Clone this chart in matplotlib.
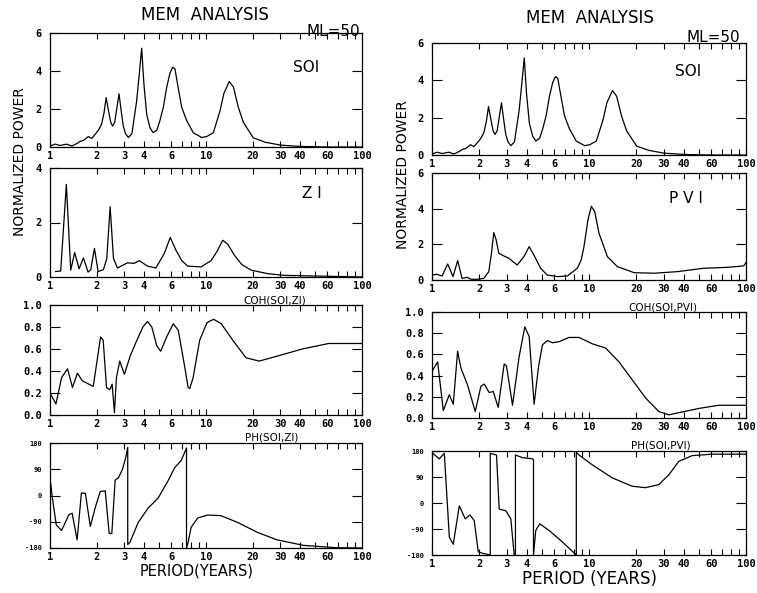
import matplotlib.pyplot as plt
from matplotlib.ticker import FixedLocator, NullFormatter

# x axis: period in years (log)
period_ticks = [1, 2, 3, 4, 6, 10, 20, 30, 40, 60, 100]
period_minor = [5, 7, 8, 9, 50, 70, 80, 90]

# SOI spectrum (same on both columns)
soi_period = [1.0, 1.08, 1.16, 1.28, 1.38, 1.5, 1.56, 1.64, 1.76, 1.85, 1.94, 2.05, 2.14, 2.22,
              2.29, 2.36, 2.45, 2.52, 2.6, 2.7, 2.77, 2.85, 2.95, 3.05, 3.18, 3.35, 3.59, 3.74,
              3.87, 4.0, 4.17, 4.38, 4.59, 4.85, 5.07, 5.33, 5.6, 5.88, 6.12, 6.33, 6.48, 6.98,
              7.51, 8.29, 9.38, 10.1, 11.14, 12.3, 13.0, 14.1, 15.0, 16.1, 17.35, 20.1, 24,
              30, 40, 60, 100]
soi_power = [0.05, 0.15, 0.08, 0.15, 0.05, 0.2, 0.3, 0.35, 0.55, 0.45, 0.65, 0.9, 1.2, 1.8,
             2.6, 2.0, 1.3, 1.1, 1.3, 2.2, 2.8, 2.0, 1.1, 0.7, 0.5, 0.7, 2.4, 3.9,
             5.2, 3.3, 1.7, 1.0, 0.75, 0.9, 1.4, 2.1, 3.15, 3.9, 4.2, 4.1, 3.6, 2.1,
             1.4, 0.75, 0.5, 0.55, 0.75, 1.9, 2.8, 3.45, 3.15, 2.1, 1.3, 0.48, 0.25,
             0.1, 0.03, 0.0, 0.0]

# ZI spectrum
zi_period = [1.087, 1.171, 1.273, 1.358, 1.44, 1.536, 1.637, 1.754, 1.825, 1.927,
             2.034, 2.2, 2.312, 2.429, 2.552, 2.707, 3.139, 3.464, 3.73, 4.22,
             4.77, 5.4, 5.9, 6.42, 7.0, 7.62, 9.29, 10.77, 11.8, 12.8, 13.8, 15.2,
             17.0, 19.5, 25.0, 31.9, 100]
zi_power = [0.2, 0.22, 3.4, 0.25, 0.9, 0.3, 0.7, 0.18, 0.27, 1.05,
            0.2, 0.27, 0.68, 2.58, 0.68, 0.33, 0.52, 0.5, 0.6, 0.4,
            0.33, 0.86, 1.45, 0.98, 0.6, 0.4, 0.37, 0.6, 0.95, 1.35, 1.2, 0.8,
            0.45, 0.25, 0.12, 0.06, 0.0]

# coherence SOI / ZI
coh_zi_period = [1.0, 1.092, 1.186, 1.295, 1.393, 1.499, 1.613, 1.894, 2.110, 2.193,
                 2.303, 2.418, 2.502, 2.589, 2.666, 2.799, 2.997, 3.272, 3.607, 3.938,
                 4.217, 4.493, 4.834, 5.125, 5.596, 6.17, 6.64, 7.32, 7.68, 7.87,
                 8.27, 9.11, 10.15, 11.19, 12.52, 14.85, 18.05, 21.93, 29.4, 41.4,
                 61.1, 100]
coh_zi = [0.2, 0.10, 0.34, 0.42, 0.25, 0.38, 0.31, 0.26, 0.71, 0.68,
          0.25, 0.23, 0.28, 0.02, 0.34, 0.49, 0.37, 0.54, 0.68, 0.80,
          0.85, 0.80, 0.63, 0.58, 0.71, 0.83, 0.77, 0.43, 0.25, 0.24,
          0.34, 0.68, 0.84, 0.87, 0.83, 0.68, 0.52, 0.49, 0.54, 0.60,
          0.65, 0.65]

# phase SOI / ZI (degrees)
ph_zi_period = [1.0, 1.035, 1.097, 1.186, 1.321, 1.387, 1.492, 1.59, 1.686, 1.813,
                1.951, 2.099, 2.259, 2.394, 2.49, 2.615, 2.746, 2.911, 3.056, 3.15,
                3.15, 3.257, 3.679, 4.258, 4.93, 5.706, 6.29, 6.94, 7.5, 7.5,
                7.65, 8.03, 8.85, 10.25, 12.45, 15.9, 21.3, 28.5, 42.2, 68.7, 100]
ph_zi = [61, -7, -101, -120, -66, -61, -152, 9, 7, -106,
         -41, 14, 16, -129, -131, 52, 61, 89, 129, 165,
         -168, -160, -92, -43, -9, 50, 95, 120, 163, -180,
         -165, -109, -77, -67, -69, -92, -126, -152, -171, -179, -180]

# PVI spectrum
pvi_period = [1.0, 1.076, 1.158, 1.259, 1.361, 1.458, 1.554, 1.673, 1.774, 1.937,
              2.137, 2.3, 2.392, 2.475, 2.562, 2.664, 2.868, 3.086, 3.488, 3.847,
              4.16, 4.457, 4.915, 5.42, 6.28, 7.27, 8.42, 8.9, 9.29, 9.85, 10.35,
              10.87, 11.58, 13.09, 15.17, 19.38, 25.99, 36.6, 54.2, 76.4, 96.7, 100]
pvi_power = [0.28, 0.32, 0.22, 0.9, 0.19, 1.09, 0.09, 0.15, 0.04, 0.04,
             0.09, 0.47, 1.5, 2.66, 2.25, 1.5, 1.35, 1.22, 0.84, 1.31,
             1.87, 1.4, 0.66, 0.28, 0.19, 0.22, 0.66, 1.1, 1.87, 3.38, 4.13,
             3.84, 2.62, 1.31, 0.75, 0.41, 0.38, 0.47, 0.66, 0.71, 0.79, 0.98]

# coherence SOI / PVI
coh_pvi_period = [1.01, 1.086, 1.18, 1.289, 1.366, 1.456, 1.529, 1.686, 1.886, 2.048,
                  2.15, 2.314, 2.454, 2.64, 2.883, 2.983, 3.257, 3.59, 3.9, 4.156,
                  4.472, 4.764, 5.05, 5.435, 5.85, 6.45, 7.46, 8.64, 10.5, 12.76,
                  15.51, 18.86, 22.9, 27.9, 32.3, 37.3, 50.0, 67.0, 100]
coh_pvi = [0.45, 0.53, 0.07, 0.22, 0.13, 0.63, 0.47, 0.31, 0.06, 0.30,
           0.32, 0.24, 0.25, 0.10, 0.51, 0.49, 0.12, 0.58, 0.86, 0.77,
           0.13, 0.48, 0.69, 0.73, 0.71, 0.72, 0.76, 0.76, 0.70, 0.66,
           0.53, 0.36, 0.19, 0.06, 0.03, 0.05, 0.09, 0.12, 0.12]

# phase SOI / PVI (degrees)
ph_pvi_period = [1.01, 1.113, 1.198, 1.289, 1.366, 1.492, 1.629, 1.744, 1.858, 1.97,
                 2.099, 2.314, 2.35, 2.35, 2.576, 2.679, 2.953, 3.178, 3.337, 3.4,
                 3.4, 3.77, 4.364, 4.43, 4.43, 4.581, 4.858, 5.57, 6.77, 8.3,
                 8.3, 8.64, 10.5, 14.07, 18.86, 22.9, 27.9, 32.3, 37.3, 45.4,
                 60.8, 100]
ph_pvi = [172, 153, 172, -118, -143, -10, -55, -41, -61, -169,
          -174, -179, -180, 172, 166, -21, -27, -55, -180, -180,
          166, 157, 153, 150, -180, -95, -72, -95, -135, -180,
          175, 166, 132, 87, 58, 53, 64, 98, 144, 164,
          169, 169]

W, H = 757.0, 593.0
fig = plt.figure(figsize=(W / 100, H / 100), dpi=100)
TICKFONT = dict(family='DejaVu Sans Mono', weight='bold')


def panel(box, ylim, yticks, ylabels, ysize=7.5):
    x0, x1, y0, y1 = box
    ax = fig.add_axes([x0 / W, 1 - y1 / H, (x1 - x0) / W, (y1 - y0) / H])
    ax.set_xscale('log')
    ax.set_xlim(1, 100)
    ax.set_ylim(*ylim)
    ax.set_xticks(period_ticks, labels=[str(t) for t in period_ticks])
    ax.xaxis.set_minor_locator(FixedLocator(period_minor))
    ax.xaxis.set_minor_formatter(NullFormatter())
    ax.set_yticks(yticks, labels=ylabels)
    ax.tick_params(axis='x', which='both', direction='in', top=True,
                   length=4, width=0.8, pad=3)
    ax.tick_params(axis='y', direction='in', right=True, length=7, width=0.8, pad=6)
    for lab in ax.get_xticklabels():
        lab.set(fontsize=7.5, **TICKFONT)
    for lab in ax.get_yticklabels():
        lab.set(fontsize=ysize, **TICKFONT)
    for s in ax.spines.values():
        s.set_linewidth(0.9)
    return ax


pow6 = ((0, 6), [0, 2, 4, 6], ['0', '2', '4', '6'])
pow4 = ((0, 4), [0, 2, 4], ['0', '2', '4'])
coh = ((0, 1), [0, 0.2, 0.4, 0.6, 0.8, 1.0], ['0.0', '0.2', '0.4', '0.6', '0.8', '1.0'])
pha = ((-180, 180), [-180, -90, 0, 90, 180], ['-180', '-90', '0', '90', '180'])

# left column
a1 = panel((50, 362, 33, 147), *pow6)
a1.plot(soi_period, soi_power, color='black', lw=0.9)
a1.text(0.82, 0.70, 'SOI', transform=a1.transAxes, ha='center', va='center', fontsize=11)

a2 = panel((50, 362, 168, 277), *pow4)
a2.plot(zi_period, zi_power, color='black', lw=0.9)
a2.text(0.84, 0.77, 'Z I', transform=a2.transAxes, ha='center', va='center', fontsize=11)

a3 = panel((50, 362, 305, 415), *coh)
a3.plot(coh_zi_period, coh_zi, color='black', lw=0.9)
a3.text(0.72, 1.0, 'COH(SOI,ZI)', transform=a3.transAxes, ha='center', va='bottom', fontsize=7.5)

a4 = panel((50, 362, 443, 548), *pha, ysize=5)
a4.plot(ph_zi_period, ph_zi, color='black', lw=0.9)
a4.text(0.71, 1.0, 'PH(SOI,ZI)', transform=a4.transAxes, ha='center', va='bottom', fontsize=7.5)

# right column
b1 = panel((432, 746, 43, 155), *pow6)
b1.plot(soi_period, soi_power, color='black', lw=0.9)
b1.text(0.815, 0.75, 'SOI', transform=b1.transAxes, ha='center', va='center', fontsize=11)

b2 = panel((432, 746, 173, 280), *pow6)
b2.plot(pvi_period, pvi_power, color='black', lw=0.9)
b2.text(0.81, 0.76, 'P V I', transform=b2.transAxes, ha='center', va='center', fontsize=11)

b3 = panel((432, 746, 312, 418), *coh)
b3.plot(coh_pvi_period, coh_pvi, color='black', lw=0.9)
b3.text(0.735, 1.0, 'COH(SOI,PVI)', transform=b3.transAxes, ha='center', va='bottom', fontsize=7.5)

b4 = panel((432, 746, 451, 555), *pha, ysize=5)
b4.plot(ph_pvi_period, ph_pvi, color='black', lw=0.9)
b4.text(0.73, 1.0, 'PH(SOI,PVI)', transform=b4.transAxes, ha='center', va='bottom', fontsize=7.5)

# figure labels
fig.text(205 / W, 1 - 15 / H, 'MEM  ANALYSIS', ha='center', va='center', fontsize=12)
fig.text(590 / W, 1 - 18 / H, 'MEM  ANALYSIS', ha='center', va='center', fontsize=12)
fig.text(360 / W, 1 - 32 / H, 'ML=50', ha='right', va='center', fontsize=11)
fig.text(740 / W, 1 - 37 / H, 'ML=50', ha='right', va='center', fontsize=11)
fig.text(20 / W, 1 - 162 / H, 'NORMALIZED POWER', rotation=90, ha='center', va='center', fontsize=10)
fig.text(403 / W, 1 - 175 / H, 'NORMALIZED POWER', rotation=90, ha='center', va='center', fontsize=10)
fig.text(197 / W, 1 - 571 / H, 'PERIOD(YEARS)', ha='center', va='center', fontsize=10.5)
fig.text(590 / W, 1 - 579 / H, 'PERIOD (YEARS)', ha='center', va='center', fontsize=12)

fig.savefig('out.png', dpi=100)
